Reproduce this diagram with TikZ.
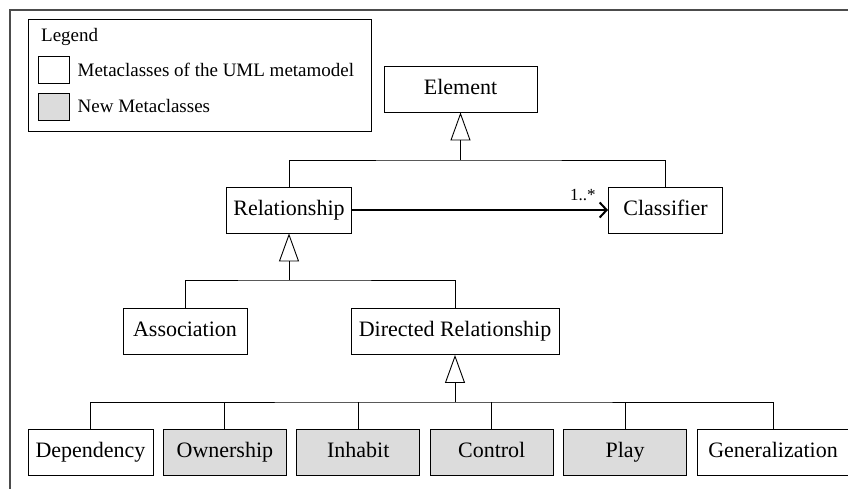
\documentclass[tikz,border=0pt]{standalone}
\usepackage{fontspec}
\setmainfont{Liberation Serif}
\usetikzlibrary{positioning, arrows.meta}
\definecolor{newgray}{RGB}{220,220,220}
\tikzset{
  node distance=9.5pt,
  metaclass/.style={draw, line width=0.9pt, minimum width=124pt, minimum height=46pt,
    inner xsep=7pt, text height=15pt, text depth=4.5pt, font=\fontsize{22}{24}\selectfont},
  newclass/.style={metaclass, fill=newgray},
  swatch/.style={draw, line width=0.9pt, minimum width=31pt, minimum height=27pt},
  legendtext/.style={anchor=west, inner xsep=0pt, font=\fontsize{19}{22}\selectfont},
  inherit/.style={line width=0.9pt, -{Triangle[open, width=20pt, length=28pt]}},
  assoc/.style={line width=2pt, -{Straight Barb[length=7pt, width=15pt]}},
}

\begin{document}
\begin{tikzpicture}[x=1pt, y=-1pt]
      \useasboundingbox (0,0) rectangle (848,489);
      \draw[line width=1.5pt, black!70] (10,489) -- (10,10) -- (848,10);

      % legend
      \node[draw, line width=0.9pt, anchor=north west, minimum width=343pt, minimum height=112pt] (legend) at (28,19) {};
      \node[legendtext] (legtitle) at (41,37) {Legend};
      \node[swatch] (swold) at (53.5,70) {};
      \node[swatch, fill=newgray] (swnew) at (53.5,106.5) {};
      \node[legendtext, right=8pt of swold] (txtold) {Metaclasses of the UML metamodel};
      \node[legendtext, right=8pt of swnew] (txtnew) {New Metaclasses};

      % classes
      \node[metaclass, minimum width=153pt] (element) at (460.5,89) {Element};
      \node[metaclass] (rel) at (289,210) {Relationship};
      \node[metaclass, minimum width=114pt, right=256pt of rel] (cls) {Classifier};
      \node[metaclass] (assoc) at (185,331.5) {Association};
      \node[metaclass, minimum width=208pt] (dirrel) at (455,331.5) {Directed Relationship};

      \node[metaclass, minimum width=125pt] (dep) at (90.5,452.5) {Dependency};
      \node[newclass, minimum width=123pt, right=of dep] (own) {Ownership};
      \node[newclass, minimum width=123pt, right=of own] (inh) {Inhabit};
      \node[newclass, minimum width=123pt, right=of inh] (ctrl) {Control};
      \node[newclass, minimum width=123pt, right=of ctrl] (play) {Play};
      \node[metaclass, minimum width=152pt, right=of play] (gen) {Generalization};

      % generalizations
      \coordinate (busA) at (element.south |- 0,160);
      \coordinate (busB) at (rel.south |- 0,280);
      \coordinate (busC) at (dirrel.south |- 0,402);

      \draw[line width=0.9pt] (rel.north) |- (busA) -| (cls.north);
      \draw[inherit] (busA) -- (element.south);
      \draw[line width=0.9pt] (assoc.north) |- (busB) -| (dirrel.north);
      \draw[inherit] (busB) -- (rel.south);
      \draw[line width=0.9pt] (dep.north) |- (busC) -| (gen.north);
      \foreach \n in {own, inh, ctrl, play}
        \draw[line width=0.9pt] (\n.north) -- (\n.north |- busC);
      \draw[inherit] (busC) -- (dirrel.south);

      % association
      \draw[assoc] (rel) -- node[pos=1, above left, xshift=-8pt, yshift=5pt,
        font=\fontsize{17}{20}\selectfont] {1..*} (cls);
    \end{tikzpicture}
\end{document}
